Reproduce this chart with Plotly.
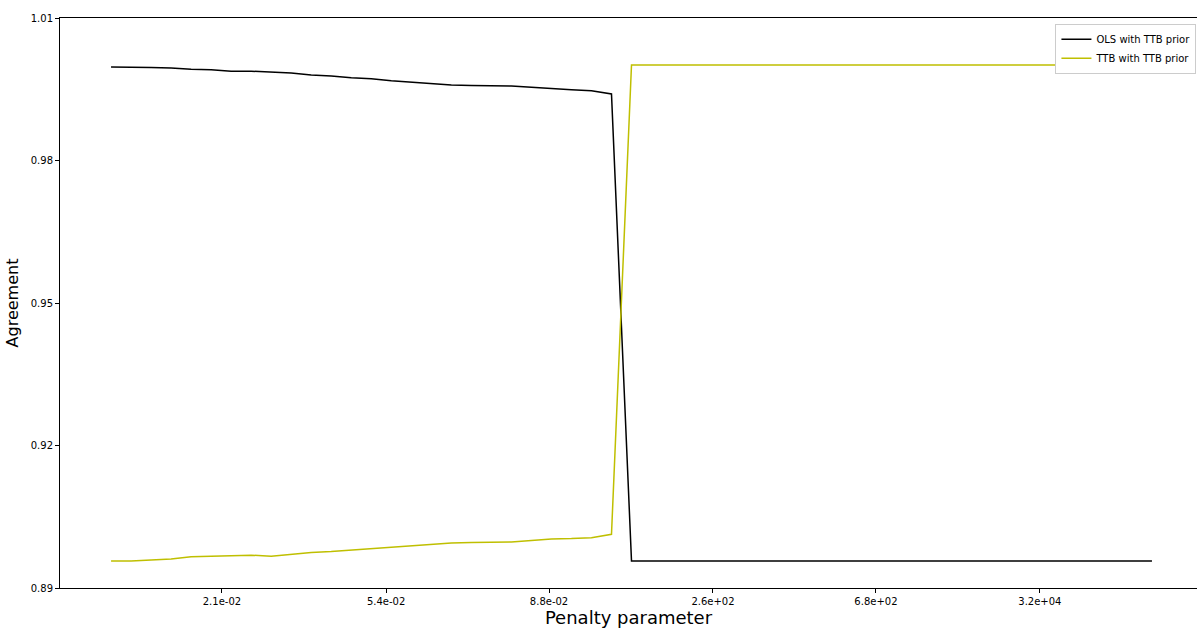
import plotly.graph_objects as go

ols_ttb = [0.9997, 0.9997, 0.9996, 0.9995, 0.9992, 0.9991, 0.9988, 0.9988, 0.9986,
           0.9984, 0.9980, 0.9978, 0.9974, 0.9972, 0.9968, 0.9965, 0.9962, 0.9959,
           0.9958, 0.9957, 0.9957, 0.9954, 0.9951, 0.9949, 0.9947, 0.9940] + [0.8957] * 27
ttb_ttb = [0.8957, 0.8957, 0.8959, 0.8961, 0.8966, 0.8967, 0.8969, 0.8969, 0.8967,
           0.8971, 0.8975, 0.8977, 0.8980, 0.8982, 0.8985, 0.8988, 0.8992, 0.8995,
           0.8996, 0.8997, 0.8997, 0.9000, 0.9003, 0.9004, 0.9006, 0.9013] + [1.0001] * 27
x_idx = list(range(len(ols_ttb)))

x_tick_pos = [5.54, 13.74, 21.88, 30.07, 38.21, 46.40]
x_tick_labels = ["2.1e-02", "5.4e-02", "8.8e-02", "2.6e+02", "6.8e+02", "3.2e+04"]
y_tick_vals = [0.89, 0.92, 0.95, 0.98, 1.01]
y_tick_labels = ["0.89", "0.92", "0.95", "0.98", "1.01"]

fig = go.Figure()
fig.add_trace(go.Scatter(x=x_idx, y=ols_ttb, mode="lines", name="OLS with TTB prior",
                         line=dict(color="#000000", width=1.5)))
fig.add_trace(go.Scatter(x=x_idx, y=ttb_ttb, mode="lines", name="TTB with TTB prior",
                         line=dict(color="#bfbf00", width=1.5)))

fig.update_layout(
    width=1198, height=629,
    margin=dict(l=60, r=1, t=18, b=41),
    paper_bgcolor="white", plot_bgcolor="white",
    font=dict(family="DejaVu Sans", size=10, color="#000000"),
    legend=dict(x=0.9995, xanchor="right", y=0.99, yanchor="top",
                bordercolor="#cccccc", borderwidth=1, bgcolor="white",
                font=dict(size=10), tracegroupgap=0, itemwidth=30),
    xaxis=dict(range=[-2.55, 54.25], tickvals=x_tick_pos, ticktext=x_tick_labels,
               showgrid=False, zeroline=False, showline=True, linecolor="#000000",
               linewidth=1, mirror=True, ticks="outside", ticklen=4, tickcolor="#000000",
               title=dict(text="Penalty parameter", font=dict(size=18), standoff=4)),
    yaxis=dict(range=[0.89, 1.01], tickvals=y_tick_vals, ticktext=y_tick_labels,
               showgrid=False, zeroline=False, showline=True, linecolor="#000000",
               linewidth=1, ticks="outside", ticklen=4, tickcolor="#000000",
               title=dict(text="Agreement", font=dict(size=16), standoff=8)),
)

fig.write_html("out.html", config={"displayModeBar": False},
               post_script="document.body.style.margin='0';document.body.style.overflow='hidden';")
